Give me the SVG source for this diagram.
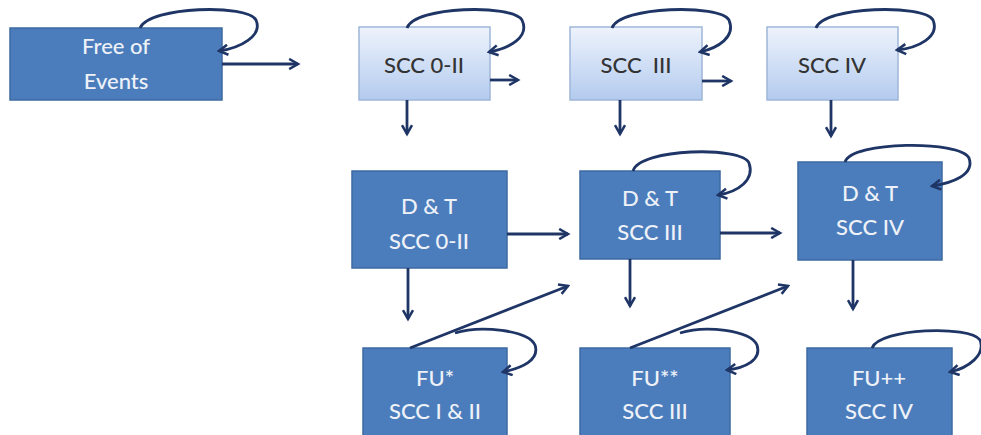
<svg xmlns="http://www.w3.org/2000/svg" width="981" height="435" viewBox="0 0 981 435">
<defs>
<linearGradient id="lg" x1="0" y1="0" x2="0" y2="1">
<stop offset="0" stop-color="#eef3fc"/>
<stop offset="1" stop-color="#b3cbef"/>
</linearGradient>
<marker id="ah" viewBox="0 0 10 10" refX="8" refY="5" markerWidth="4.5" markerHeight="4.5" orient="auto" markerUnits="strokeWidth">
<path d="M1,1 L8,5 L1,9" fill="none" stroke="#1e3566" stroke-width="2"/>
</marker>
</defs>
<style>
.dk{fill:#4b7dbc;stroke:#3d6aa3;stroke-width:1.5}
.lt{fill:url(#lg);stroke:#9fb6d8;stroke-width:1.5}
.tw{font-family:Lato,"Open Sans",sans-serif;font-size:22px;font-weight:500;fill:#eef2f8;text-anchor:middle}
.td{font-family:Lato,"Open Sans",sans-serif;font-size:22px;font-weight:500;fill:#333;text-anchor:middle}
.c{fill:none;stroke:#1e3566;stroke-width:2.8;marker-end:url(#ah)}
</style>
<rect width="981" height="435" fill="#fff"/>
<g id="free"><rect class="dk" x="10" y="28" width="212" height="72"/><text class="tw" x="116" y="54">Free of</text><text class="tw" x="116" y="89">Events</text></g>
<g id="scc0"><rect class="lt" x="359" y="27" width="131" height="73"/><text class="td" x="424" y="73">SCC 0-II</text></g>
<g id="scc3"><rect class="lt" x="570" y="27" width="132" height="73"/><text class="td" x="636" y="73" xml:space="preserve">SCC  III</text></g>
<g id="scc4"><rect class="lt" x="767" y="27" width="131" height="73"/><text class="td" x="832" y="73">SCC IV</text></g>
<g id="dt0"><rect class="dk" x="352" y="171" width="155" height="97"/><text class="tw" x="429" y="214">D &amp; T</text><text class="tw" x="429" y="249">SCC 0-II</text></g>
<g id="dt3"><rect class="dk" x="580" y="171" width="140" height="88"/><text class="tw" x="650" y="206">D &amp; T</text><text class="tw" x="650" y="240">SCC III</text></g>
<g id="dt4"><rect class="dk" x="798" y="162" width="144" height="98"/><text class="tw" x="870" y="201">D &amp; T</text><text class="tw" x="870" y="235">SCC IV</text></g>
<g id="fu1"><rect class="dk" x="363" y="348" width="144" height="95"/><text class="tw" x="435" y="386">FU*</text><text class="tw" x="435" y="419">SCC I &amp; II</text></g>
<g id="fu3"><rect class="dk" x="580" y="348" width="150" height="95"/><text class="tw" x="655" y="386">FU**</text><text class="tw" x="655" y="419">SCC III</text></g>
<g id="fu4"><rect class="dk" x="807" y="348" width="145" height="95"/><text class="tw" x="879" y="386">FU++</text><text class="tw" x="879" y="419">SCC IV</text></g>
<g id="connectors">
<path class="c" d="M140,28 C150,6 248,4 256,20 C263,36 240,48 219,51"/>
<path class="c" d="M222,64 L298,64"/>
<path class="c" d="M407,28 C415,6 512,4 522,20 C530,37 510,48 489,52"/>
<path class="c" d="M490,80 L518,80"/>
<path class="c" d="M407,100 L407,134"/>
<path class="c" d="M612,28 C620,6 720,4 729,20 C736,37 718,48 700,52"/>
<path class="c" d="M702,81 L731,81"/>
<path class="c" d="M620,100 L620,134"/>
<path class="c" d="M816,28 C824,6 924,4 933,20 C940,37 918,48 897,50"/>
<path class="c" d="M831,100 L831,136"/>
<path class="c" d="M507,234 L568,234"/>
<path class="c" d="M408,268 L408,319"/>
<path class="c" d="M633,171 C640,148 742,146 749,163 C755,180 738,192 718,195"/>
<path class="c" d="M720,233 L780,233"/>
<path class="c" d="M630,259 L630,306"/>
<path class="c" d="M845,162 C852,141 960,140 969,158 C975,175 952,183 932,186"/>
<path class="c" d="M853,260 L853,309"/>
<path class="c" d="M410,348 L568,286"/>
<path class="c" d="M455,333 C480,325 528,330 535,345 C540,360 522,368 503,372"/>
<path class="c" d="M630,348 L788,286"/>
<path class="c" d="M680,333 C705,325 750,330 757,345 C762,360 745,368 727,370"/>
<path class="c" d="M872,348 C880,328 970,325 980,340 C986,355 968,368 950,372"/>
</g>
</svg>
